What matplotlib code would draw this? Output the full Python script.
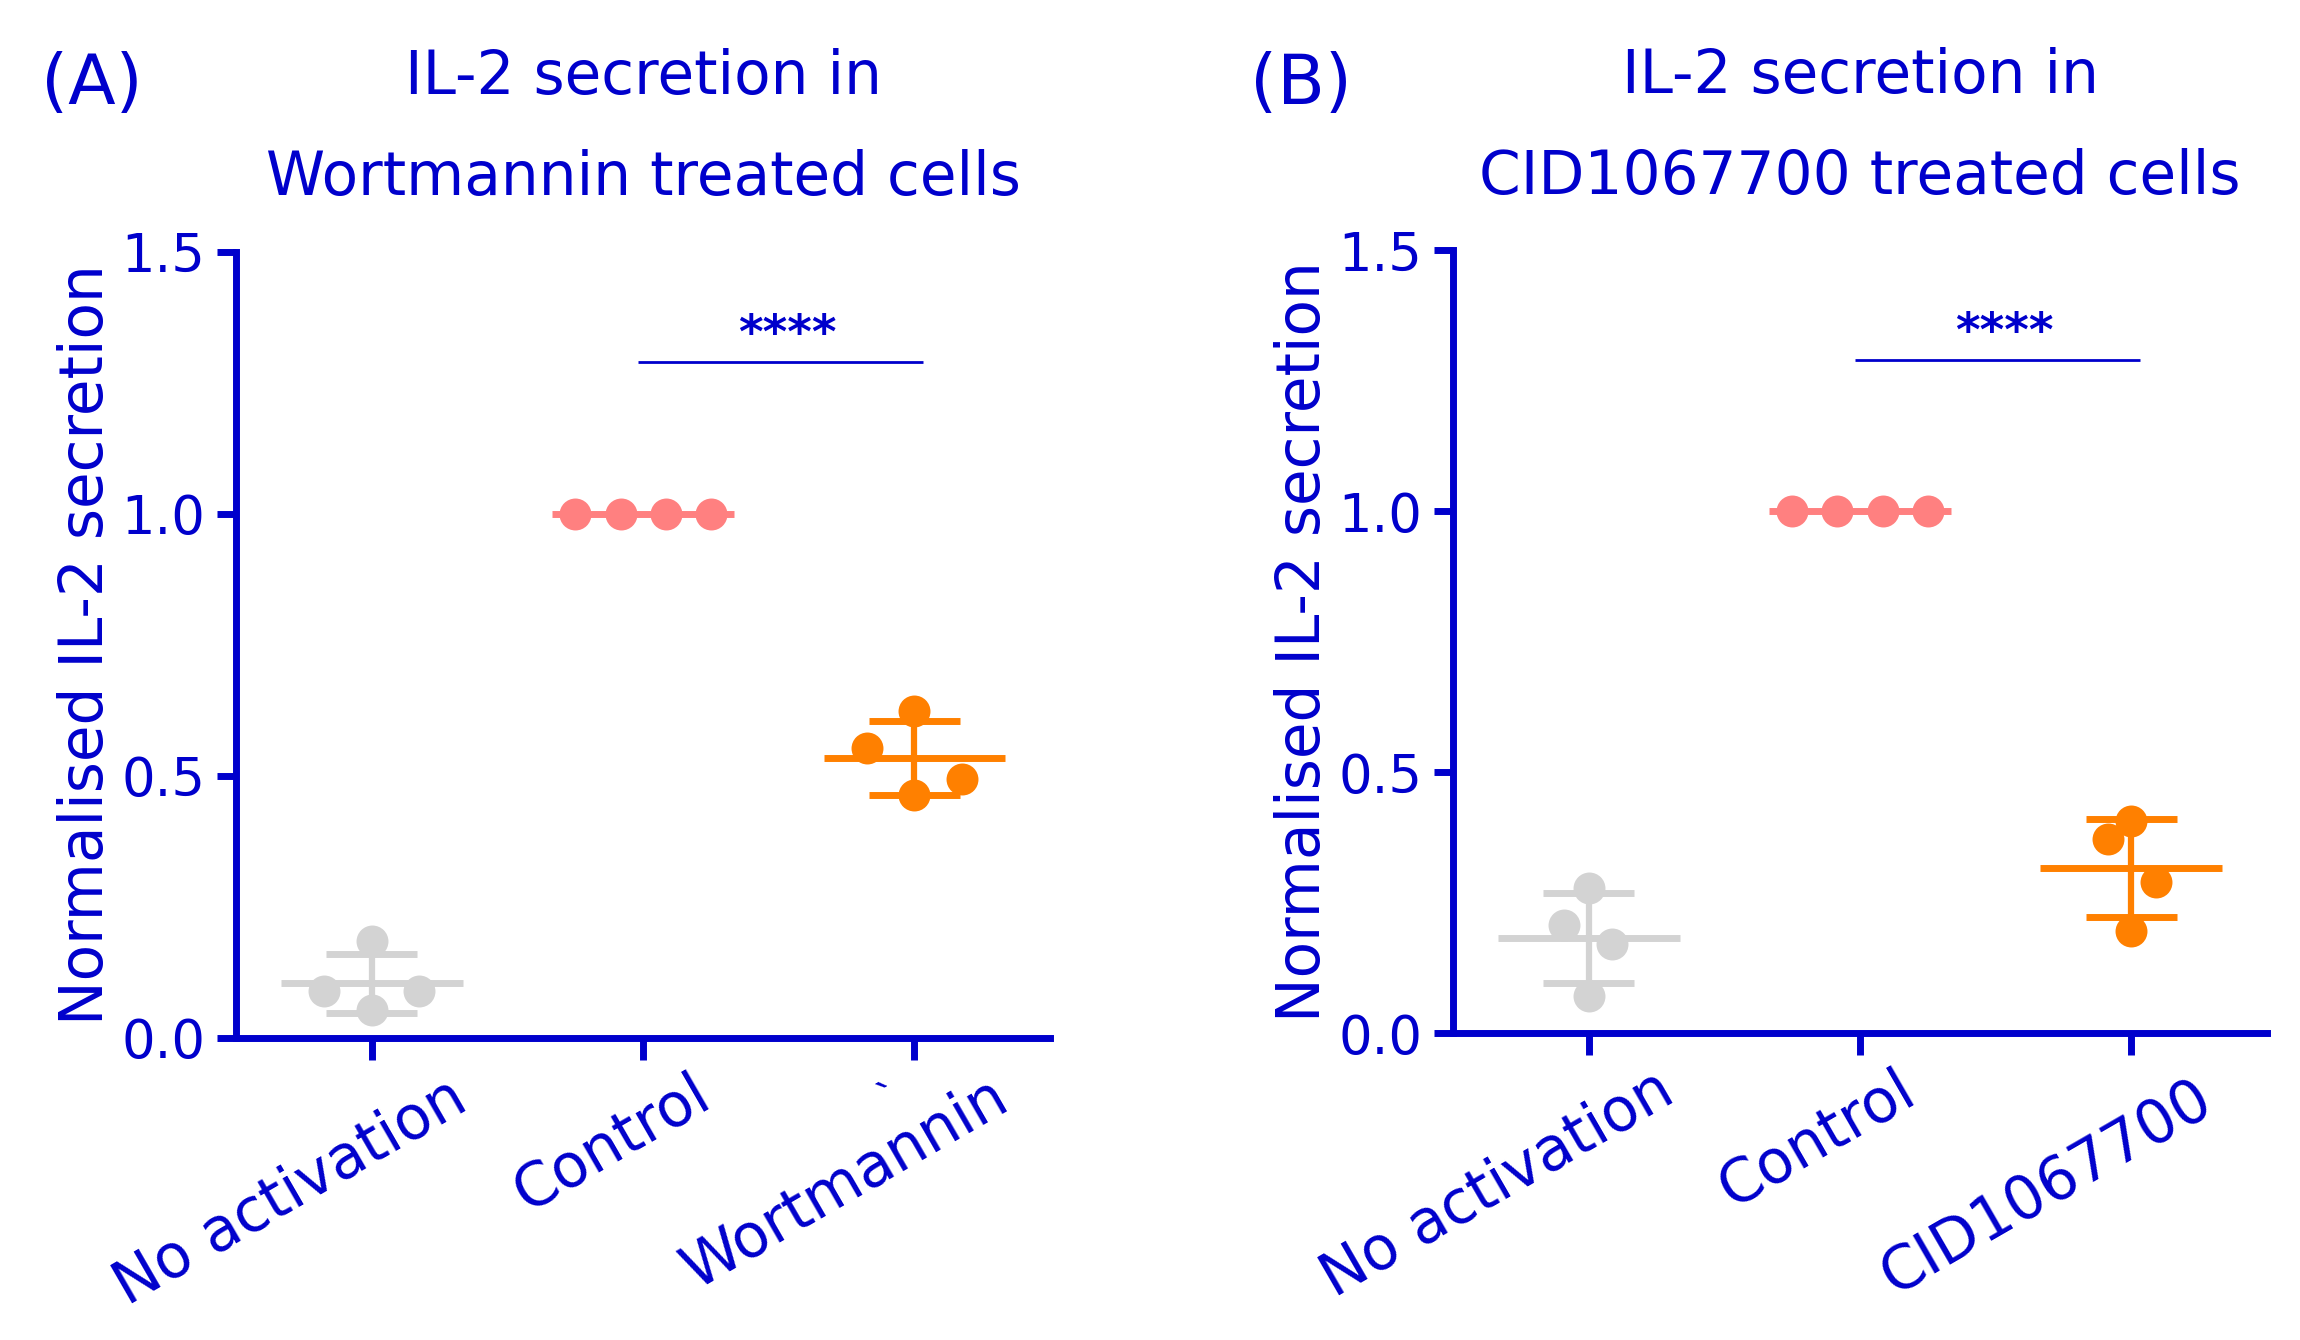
import matplotlib
matplotlib.use("Agg")
import matplotlib.pyplot as plt
from matplotlib.transforms import offset_copy
import numpy as np

# ==========================================
# DATA
# ==========================================
GROUPS_A = ["No activation", "Control", "Wortmannin"]
GROUPS_B = ["No activation", "Control", "CID1067700"]

TITLE_A = ["IL-2 secretion in", "Wortmannin treated cells"]
TITLE_B = ["IL-2 secretion in", "CID1067700 treated cells"]
PANEL_TAGS = ["(A)", "(B)"]
YLABEL = "Normalised IL-2 secretion"

# normalised replicates (n = 4)
NOACT_A = [0.185, 0.090, 0.090, 0.053]
CONTROL_A = [1.0, 1.0, 1.0, 1.0]
WORT_A = [0.624, 0.553, 0.494, 0.464]

NOACT_B = [0.279, 0.208, 0.171, 0.071]
CONTROL_B = [1.0, 1.0, 1.0, 1.0]
CID_B = [0.407, 0.371, 0.290, 0.195]

Y_TICKS = [0.0, 0.5, 1.0, 1.5]
SIG_LABEL = "****"

# ==========================================
# STYLE
# ==========================================
BLUE = "#0000CC"
GROUP_COLORS = ["#D3D3D3", "#FF8080", "#FF8000"]
FS = 43

# horizontal scatter of the replicate dots (category units)
JITTER_A = [[0, -0.175, 0.175, 0], [-0.25, -0.083, 0.083, 0.25], [0, -0.175, 0.175, 0]]
JITTER_B = [[0, -0.09, 0.085, 0], [-0.25, -0.083, 0.083, 0.25], [0, -0.085, 0.09, 0]]

# pixel shift of each rotated category label (right, down) from its tick
XLABEL_SHIFT_A = [(76, 30), (48, 26), (74, 30)]
XLABEL_SHIFT_B = [(66, 27), (36, 27), (62, 36)]

plt.rcParams['font.family'] = ['DejaVu Sans']


def draw_panel(fig, ax, groups, values, jitter, shifts, title, tag, tag_x):
    x = np.arange(len(groups))

    for i, vals in enumerate(values):
        vals = np.array(vals)
        col = GROUP_COLORS[i]
        mean = vals.mean()
        sd = vals.std(ddof=1)
        # mean line
        ax.plot([i - 0.335, i + 0.335], [mean, mean], color=col, lw=5,
                solid_capstyle='butt', zorder=2)
        if sd > 0:
            ax.plot([i, i], [mean - sd, mean + sd], color=col, lw=4.5, zorder=2)
            for v in (mean - sd, mean + sd):
                ax.plot([i - 0.167, i + 0.167], [v, v], color=col, lw=5,
                        solid_capstyle='butt', zorder=2)
        ax.plot(i + np.array(jitter[i]), vals, 'o', color=col, ms=23,
                mec='none', zorder=3)

    # significance bar between control and treatment
    ax.plot([0.98, 2.03], [1.29, 1.29], color=BLUE, lw=2, solid_capstyle='butt')
    ax.text(1.53, 1.34, SIG_LABEL, color=BLUE, fontsize=34, weight='bold',
            ha='center', va='center')

    ax.set_xlim(-0.5, 2.5)
    ax.set_ylim(0, 1.5)
    ax.set_xticks(x)
    ax.set_yticks(Y_TICKS)
    ax.set_yticklabels([f"{t:.1f}" for t in Y_TICKS])
    ax.tick_params(axis='both', direction='out', length=14, width=5,
                   color=BLUE, labelcolor=BLUE, labelsize=38, pad=8)
    ax.tick_params(axis='x', labelbottom=False, length=16)

    for side in ['top', 'right']:
        ax.spines[side].set_visible(False)
    for side in ['left', 'bottom']:
        ax.spines[side].set_linewidth(5)
        ax.spines[side].set_color(BLUE)
        ax.spines[side].set_capstyle('projecting')

    # rotated category labels
    for i, lbl in enumerate(groups):
        dx, dy = shifts[i]
        tr = offset_copy(ax.get_xaxis_transform(), fig=fig, x=dx, y=-dy, units='dots')
        ax.text(i, 0, lbl, transform=tr, rotation=30, rotation_mode='anchor',
                ha='right', va='top', fontsize=FS, color=BLUE)

    ax.text(-0.163, 0.5, YLABEL, transform=ax.transAxes, rotation=90,
            rotation_mode='anchor', ha='center', va='baseline',
            fontsize=FS, color=BLUE)

    ax.text(0.5, 1.222, title[0], transform=ax.transAxes, ha='center',
            va='center', fontsize=FS, color=BLUE)
    ax.text(0.5, 1.093, title[1], transform=ax.transAxes, ha='center',
            va='center', fontsize=FS, color=BLUE)

    fig.text(tag_x, 0.937, tag, ha='left', va='center', fontsize=50, color=BLUE)


def main():
    fig = plt.figure(figsize=(23, 13.4), dpi=100)
    ax_a = fig.add_axes([0.1026, 0.2254, 0.354, 0.5866])
    ax_b = fig.add_axes([0.6317, 0.2290, 0.354, 0.5843])

    draw_panel(fig, ax_a, GROUPS_A, [NOACT_A, CONTROL_A, WORT_A], JITTER_A,
               XLABEL_SHIFT_A, TITLE_A, PANEL_TAGS[0], 0.0178)
    draw_panel(fig, ax_b, GROUPS_B, [NOACT_B, CONTROL_B, CID_B], JITTER_B,
               XLABEL_SHIFT_B, TITLE_B, PANEL_TAGS[1], 0.5435)

    # stray mark above the Wortmannin label in the original
    fig.text(892 / 2300, 1 - 1098 / 1340, "`", rotation=30, ha='center',
             va='center', fontsize=30, color=BLUE)

    fig.savefig("out.png", dpi=100)
    plt.close(fig)


if __name__ == "__main__":
    main()
